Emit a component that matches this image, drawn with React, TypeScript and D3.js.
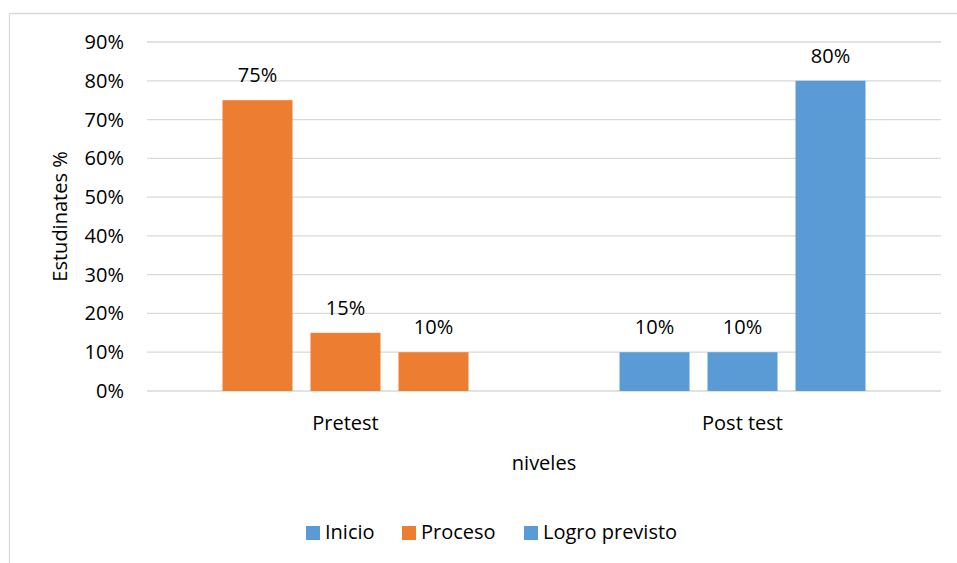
import { useEffect, useRef } from "react";
import * as d3 from "d3";

// categories on the x axis and the three series of the clustered bars
const categories = ["Pretest", "Post test"];
const series = ["Inicio", "Proceso", "Logro previsto"];
// values per category, in series order (percent)
const pretestValues = [75, 15, 10];
const posttestValues = [10, 10, 80];
const yTicks = [0, 10, 20, 30, 40, 50, 60, 70, 80, 90];

const ORANGE = "#ED7D31";
const BLUE = "#5B9BD5";
const GRID = "#d9d9d9";
const FONT = "'Open Sans', sans-serif";

// bars in the original take their colour from the category, legend from the series
const categoryColor: Record<string, string> = { Pretest: ORANGE, "Post test": BLUE };
const legendColor: Record<string, string> = { Inicio: BLUE, Proceso: ORANGE, "Logro previsto": BLUE };

export default function App() {
    const ref = useRef<SVGSVGElement | null>(null);

    useEffect(() => {
        if (!ref.current) return;
        const svg = d3.select(ref.current);
        svg.selectAll("*").remove();

        const width = 957;
        const height = 563;
        const plot = { left: 147, right: 941, top: 42, bottom: 391 };

        const rows = categories.map((c, i) => ({
            category: c,
            values: i === 0 ? pretestValues : posttestValues,
        }));

        // chart frame (only top and left edges visible in the crop)
        svg.append("line").attr("x1", 9.5).attr("x2", width).attr("y1", 13.5).attr("y2", 13.5)
            .attr("stroke", GRID).attr("stroke-width", 1.3);
        svg.append("line").attr("x1", 9.5).attr("x2", 9.5).attr("y1", 13.5).attr("y2", height)
            .attr("stroke", GRID).attr("stroke-width", 1.3);

        const y = d3.scaleLinear().domain([0, 90]).range([plot.bottom, plot.top]);
        const x0 = d3.scaleBand<string>().domain(categories).range([plot.left, plot.right]);
        const x1 = d3
            .scaleBand<string>()
            .domain(series)
            .range([0, x0.bandwidth()])
            .paddingInner(18 / 88)
            .paddingOuter(0.858);

        // gridlines
        svg.append("g")
            .selectAll("line")
            .data(yTicks)
            .enter()
            .append("line")
            .attr("x1", plot.left)
            .attr("x2", plot.right)
            .attr("y1", d => y(d))
            .attr("y2", d => y(d))
            .attr("stroke", GRID)
            .attr("stroke-width", 1.3);

        // y tick labels
        svg.append("g")
            .selectAll("text")
            .data(yTicks)
            .enter()
            .append("text")
            .attr("x", 124)
            .attr("y", d => y(d) + 7)
            .attr("text-anchor", "end")
            .attr("font-family", FONT)
            .attr("font-size", 20)
            .attr("fill", "#000")
            .text(d => `${d}%`);

        // bars
        const groups = svg.append("g")
            .selectAll("g")
            .data(rows)
            .enter()
            .append("g")
            .attr("transform", d => `translate(${x0(d.category)},0)`);

        groups
            .selectAll("rect")
            .data(d => d.values.map((v, i) => ({ s: series[i], v, c: d.category })))
            .enter()
            .append("rect")
            .attr("x", d => x1(d.s)!)
            .attr("width", x1.bandwidth())
            .attr("y", d => y(d.v))
            .attr("height", d => y(0) - y(d.v))
            .attr("fill", d => categoryColor[d.c]);

        groups
            .selectAll("text")
            .data(d => d.values.map((v, i) => ({ s: series[i], v })))
            .enter()
            .append("text")
            .attr("x", d => x1(d.s)! + x1.bandwidth() / 2)
            .attr("y", d => y(d.v) - 18)
            .attr("text-anchor", "middle")
            .attr("font-family", FONT)
            .attr("font-size", 20)
            .attr("fill", "#000")
            .text(d => `${d.v}%`);

        // category labels
        svg.append("g")
            .selectAll("text")
            .data(categories)
            .enter()
            .append("text")
            .attr("x", d => x0(d)! + x0.bandwidth() / 2)
            .attr("y", 430)
            .attr("text-anchor", "middle")
            .attr("font-family", FONT)
            .attr("font-size", 20)
            .attr("fill", "#000")
            .text(d => d);

        // axis titles
        svg.append("text")
            .attr("x", (plot.left + plot.right) / 2)
            .attr("y", 470)
            .attr("text-anchor", "middle")
            .attr("font-family", FONT)
            .attr("font-size", 20)
            .attr("fill", "#000")
            .text("niveles");

        svg.append("text")
            .attr("transform", `translate(67,${(plot.top + plot.bottom) / 2}) rotate(-90)`)
            .attr("text-anchor", "middle")
            .attr("font-family", FONT)
            .attr("font-size", 20)
            .attr("fill", "#000")
            .text("Estudinates %");

        // legend
        const legendX = [306, 402, 524];
        const legend = svg.append("g")
            .selectAll("g")
            .data(series)
            .enter()
            .append("g")
            .attr("transform", (_d, i) => `translate(${legendX[i]},526)`);
        legend.append("rect").attr("width", 14).attr("height", 14).attr("fill", d => legendColor[d]);
        legend.append("text")
            .attr("x", 19)
            .attr("y", 13)
            .attr("font-family", FONT)
            .attr("font-size", 20)
            .attr("fill", "#000")
            .text(d => d);
    }, []);

    return (
        <svg
            ref={ref}
            width={957}
            height={563}
            style={{ position: "absolute", left: 0, top: 0, background: "#fff" }}
        />
    );
}
